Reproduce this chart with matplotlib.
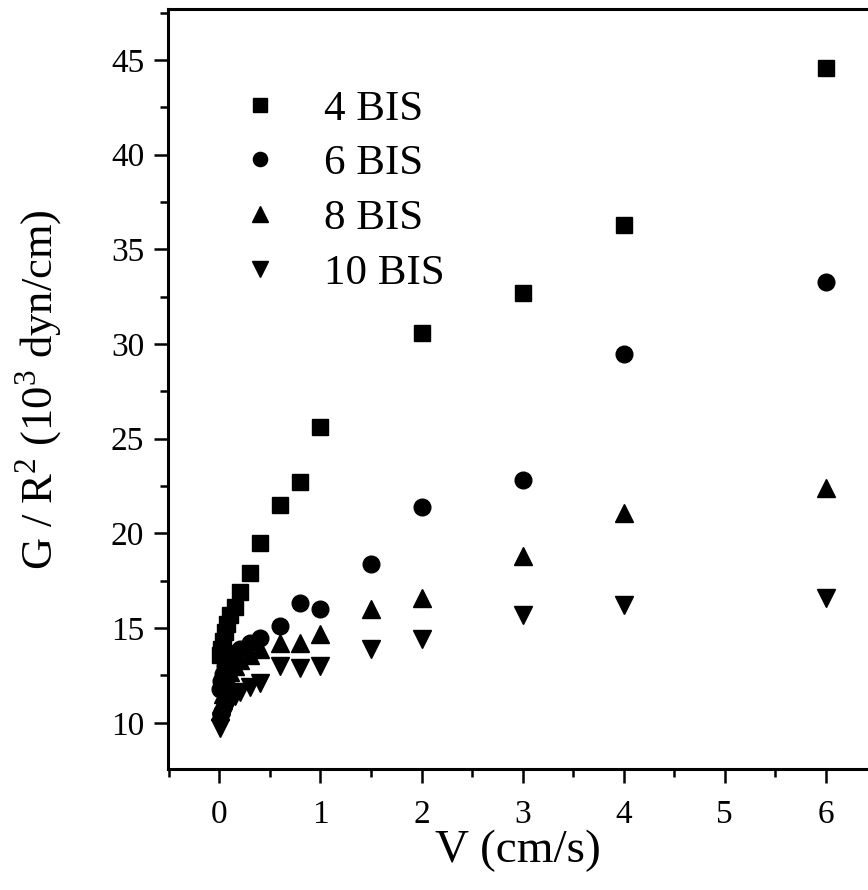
import matplotlib
matplotlib.use('Agg')
import matplotlib.pyplot as plt
from matplotlib.ticker import MultipleLocator

plt.rcParams['font.family'] = ['Liberation Serif', 'DejaVu Serif']
plt.rcParams['mathtext.fontset'] = 'custom'
plt.rcParams['mathtext.rm'] = 'Liberation Serif'

# velocity (cm/s)
v = [0.01, 0.02, 0.03, 0.05, 0.07, 0.1, 0.15, 0.2, 0.3, 0.4, 0.6, 0.8, 1, 1.5, 2, 3, 4, 6]
v_4 = [0.01, 0.02, 0.03, 0.05, 0.07, 0.1, 0.15, 0.2, 0.3, 0.4, 0.6, 0.8, 1, 2, 3, 4, 6]

# G / R^2 (10^3 dyn/cm)
bis_4 = [13.6, 13.9, 14.3, 14.8, 15.2, 15.7, 16.1, 16.9, 17.9, 19.5, 21.5, 22.7, 25.6, 30.6, 32.7, 36.3, 44.6]
bis_6 = [11.8, 12.2, 12.6, 13.0, 13.3, 13.5, 13.7, 13.9, 14.2, 14.5, 15.1, 16.3, 16.0, 18.4, 21.4, 22.8, 29.5, 33.3]
bis_8 = [10.6, 11.0, 11.5, 12.0, 12.4, 12.7, 13.0, 13.3, 13.6, 13.9, 14.2, 14.2, 14.7, 16.0, 16.6, 18.8, 21.1, 22.4]
bis_10 = [9.7, 10.0, 10.3, 10.6, 10.9, 11.1, 11.4, 11.6, 11.9, 12.1, 13.0, 12.9, 13.0, 13.9, 14.4, 15.7, 16.2, 16.6]

fig = plt.figure(figsize=(8.68, 8.90), dpi=100)
ax = fig.add_axes([0.1935, 0.136, 0.8065, 0.8534])

ax.plot(v_4, bis_4, 's', color='black', markersize=11.5, label='4 BIS')
ax.plot(v, bis_6, 'o', color='black', markersize=12, label='6 BIS')
ax.plot(v, bis_8, '^', color='black', markersize=13.5, label='8 BIS')
ax.plot(v, bis_10, 'v', color='black', markersize=13.5, label='10 BIS')

ax.set_xlim(-0.51, 6.42)
ax.set_ylim(7.56, 47.67)
ax.xaxis.set_major_locator(MultipleLocator(1))
ax.xaxis.set_minor_locator(MultipleLocator(0.5))
ax.yaxis.set_major_locator(MultipleLocator(5))
ax.yaxis.set_minor_locator(MultipleLocator(2.5))

for side in ['left', 'bottom', 'top']:
    ax.spines[side].set_linewidth(2.2)
ax.spines['right'].set_visible(False)

ax.tick_params(which='major', direction='out', length=10, width=1.8, labelsize=24)
ax.tick_params(axis='x', which='major', pad=12)
ax.tick_params(axis='y', which='major', pad=7)
ax.tick_params(which='minor', direction='out', length=6, width=1.8)
ax.tick_params(top=False, right=False)

ax.set_xlabel('V (cm/s)', fontsize=34, labelpad=0)
ax.set_ylabel('G / R$^2$ (10$^3$ dyn/cm)', fontsize=32, labelpad=33)

ax.legend(loc='upper left', bbox_to_anchor=(0.076, 0.917), frameon=False, fontsize=31,
          handletextpad=1.0, labelspacing=0.36, handlelength=1.0, markerscale=0.85,
          borderaxespad=0)

fig.savefig('out.png', dpi=100)
